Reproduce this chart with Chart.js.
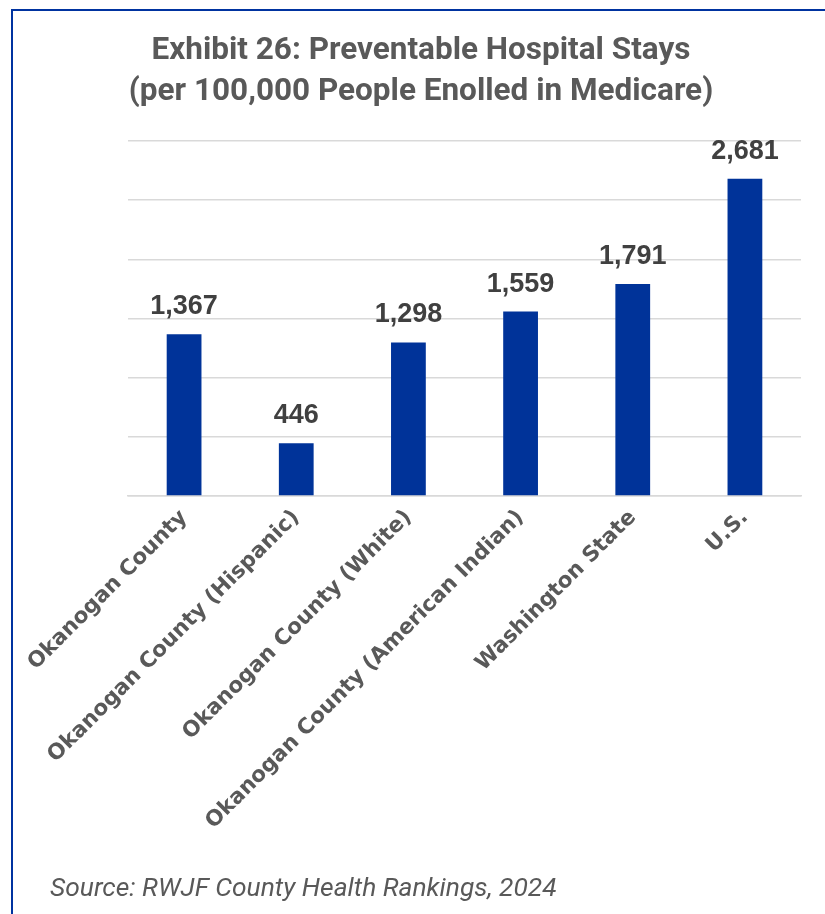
<!DOCTYPE html>
<html>
<head>
<meta charset="utf-8">
<script src="https://cdn.jsdelivr.net/npm/chart.js@4.4.1/dist/chart.umd.min.js"></script>
<style>
  html, body { margin: 0; padding: 0; background: #fff; }
  #wrap { position: relative; width: 825px; height: 914px; overflow: hidden; }
  #frame { position: absolute; left: 11px; top: 9px; width: 900px; height: 1000px; border: 2.5px solid #0033a0; box-sizing: border-box; }
  canvas { position: absolute; left: 0; top: 0; }
</style>
</head>
<body>
<div id="wrap">
  <div id="frame"></div>
  <canvas id="barChart" width="825" height="914"></canvas>
</div>
<script>
const categories = ['Okanogan County', 'Okanogan County (Hispanic)', 'Okanogan County (White)', 'Okanogan County (American Indian)', 'Washington State', 'U.S.'];
const stays = [1367, 446, 1298, 1559, 1791, 2681];
const titleLines = ['Exhibit 26: Preventable Hospital Stays', '(per 100,000 People Enolled in Medicare)'];
const sourceText = 'Source: RWJF County Health Rankings, 2024';

const textBits = {
  id: 'textBits',
  afterDatasetsDraw: (chart) => {
    const { ctx } = chart;
    ctx.save();
    // value labels above the bars
    const meta = chart.getDatasetMeta(0);
    ctx.font = 'bold 27px "Liberation Sans"';
    ctx.fillStyle = '#404040';
    ctx.textAlign = 'center';
    ctx.textBaseline = 'alphabetic';
    meta.data.forEach((bar, i) => {
      ctx.fillText(stays[i].toLocaleString('en-US'), bar.x, bar.y - 20);
    });
    // title
    ctx.font = 'bold 31.5px Roboto';
    ctx.fillStyle = '#595959';
    ctx.fillText(titleLines[0], 421, 59);
    ctx.fillText(titleLines[1], 421, 100);
    // source
    ctx.font = 'italic 26.4px Roboto';
    ctx.textAlign = 'left';
    ctx.fillText(sourceText, 50, 896);
    ctx.restore();
  }
};

Chart.defaults.animation = false;

new Chart(document.getElementById('barChart'), {
  type: 'bar',
  data: {
    labels: categories,
    datasets: [{
      data: stays,
      backgroundColor: '#003399',
      barPercentage: 0.31,
      categoryPercentage: 1,
    }]
  },
  options: {
    responsive: false,
    layout: { padding: { top: 141, right: 24, left: 0, bottom: 0 } },
    plugins: {
      legend: { display: false },
      title: { display: false },
      tooltip: { enabled: false }
    },
    scales: {
      y: {
        min: 0,
        max: 3000,
        ticks: { display: false, stepSize: 500 },
        grid: { color: '#d9d9d9', lineWidth: 1.5, drawTicks: false },
        border: { display: false },
        afterFit: (scale) => { scale.width = 128; }
      },
      x: {
        grid: { display: false },
        border: { color: '#d9d9d9', width: 1.5 },
        ticks: {
          color: '#595959',
          font: { family: '"DejaVu Sans"', weight: 'bold', size: 21.5 },
          minRotation: 45,
          maxRotation: 45,
          padding: 1
        },
        afterFit: (scale) => { scale.height = 418; }
      }
    }
  },
  plugins: [textBits],
});
</script>
</body>
</html>
